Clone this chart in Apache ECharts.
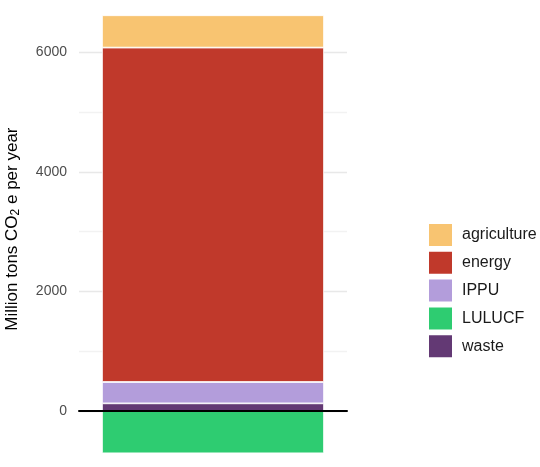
<!DOCTYPE html>
<html>
<head>
<meta charset="utf-8">
<script src="https://cdn.jsdelivr.net/npm/echarts@6/dist/echarts.min.js"></script>
<style>
html,body{margin:0;padding:0;background:#fff;}
#chart{width:540px;height:467px;}
</style>
</head>
<body>
<div id="chart"></div>
<script>
// Data (Million tons CO2e per year)
const categories = ['total'];
const sectorNames = ['agriculture', 'energy', 'IPPU', 'LULUCF', 'waste'];
const agriculture = [541];
const energy = [5592];
const ippu = [357];
const lulucf = [-707];
const waste = [128];
const yTickLabels = [0, 2000, 4000, 6000];

const colors = {
  agriculture: '#f8c471',
  energy: '#c0392b',
  IPPU: '#b39ddb',
  LULUCF: '#2ecc71',
  waste: '#633974'
};

const valuesByName = {
  agriculture: agriculture,
  energy: energy,
  IPPU: ippu,
  LULUCF: lulucf,
  waste: waste
};

// stacking order from bottom: waste, LULUCF (negative), IPPU, energy, agriculture
const stackOrder = ['waste', 'LULUCF', 'IPPU', 'energy', 'agriculture'];

const series = stackOrder.map(function (name) {
  return {
    name: name,
    type: 'bar',
    stack: 'total',
    barWidth: 222,
    data: valuesByName[name],
    itemStyle: { color: colors[name], borderColor: '#ffffff', borderWidth: 0.8 },
    emphasis: { disabled: true }
  };
});

const chart = echarts.init(document.getElementById('chart'), null, { renderer: 'canvas' });
chart.setOption({
  animation: false,
  backgroundColor: '#ffffff',
  grid: { left: 79, right: 193, top: -7.6, bottom: -3.8, containLabel: false, outerBoundsMode: 'none' },
  legend: {
    data: sectorNames,
    orient: 'vertical',
    left: 427,
    top: 222,
    padding: 0,
    icon: 'rect',
    itemWidth: 25,
    itemHeight: 24,
    itemGap: 1.8,
    selectedMode: false,
    textStyle: { fontFamily: 'Liberation Sans', fontSize: 16, lineHeight: 20, color: '#1a1a1a', padding: [0, 0, 0, 4] }
  },
  xAxis: {
    type: 'category',
    data: categories,
    z: 10,
    axisLine: { show: true, onZero: true, lineStyle: { color: '#000000', width: 2 } },
    axisTick: { show: false },
    axisLabel: { show: false },
    splitLine: { show: false }
  },
  yAxis: {
    type: 'value',
    min: -1000,
    max: 7000,
    interval: 1000,
    name: '{a|Million tons CO}{s|2}{a| e per year}',
    nameLocation: 'middle',
    nameGap: 57,
    nameTextStyle: {
      fontFamily: 'Liberation Sans',
      color: '#000000',
      padding: [0, 0, 0, 5],
      rich: {
        a: { fontFamily: 'Liberation Sans', fontSize: 17, color: '#000000' },
        s: { fontFamily: 'Liberation Sans', fontSize: 12, color: '#000000', padding: [7, 0, 0, 0] }
      }
    },
    axisLine: { show: false },
    axisTick: { show: false },
    axisLabel: {
      margin: 12,
      fontFamily: 'Liberation Sans',
      fontSize: 14,
      color: '#4d4d4d',
      formatter: function (v) { return yTickLabels.indexOf(v) >= 0 ? String(v) : ''; }
    },
    splitLine: { show: true, lineStyle: { color: ['#f2f2f2', '#e8e8e8'], width: 1.4 } }
  },
  series: series
});
</script>
</body>
</html>
